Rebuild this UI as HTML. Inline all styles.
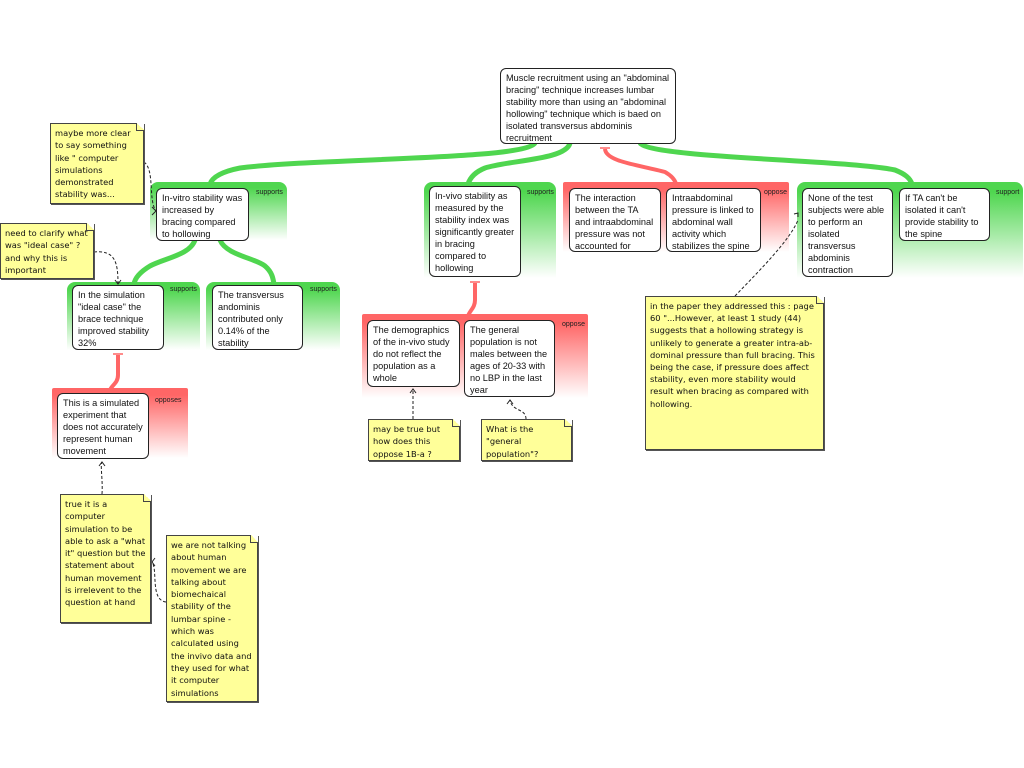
<!DOCTYPE html>
<html><head><meta charset="utf-8"><style>
body{margin:0;width:1024px;height:768px;background:#fff;position:relative;overflow:hidden;font-family:"Liberation Sans",sans-serif}
.g,.r{position:absolute}
.g{background:linear-gradient(#4fd64f,#4fd64f 10%,#fff);border-radius:8px 8px 0 0}
.r{background:linear-gradient(#f66,#f66 10%,#fff);border-radius:2px 2px 0 0}
.lab{position:absolute;font-size:7px;color:#222}
.n{position:absolute;background:#fff;border:1px solid #222;border-radius:6px;font-size:9.2px;line-height:12px;padding:3px 5px;box-sizing:border-box;color:#111}
.note{position:absolute;background:#ffff99;border:1px solid #444;box-shadow:1px 1px 0 #555;font-family:"DejaVu Sans",sans-serif;font-size:8.3px;line-height:12.3px;padding:3px 4px;box-sizing:border-box;color:#111;overflow-wrap:break-word}
.note:after{content:"";position:absolute;right:-1px;top:-1px;width:7px;height:7px;background:linear-gradient(225deg,#fff 50%,#ffff99 50%);border-left:1px solid #444;border-bottom:1px solid #444}
svg{position:absolute;left:0;top:0}
</style></head><body>
<div class="g" style="left:150px;top:182px;width:137px;height:58px"></div>
<div class="g" style="left:424px;top:182px;width:132px;height:96px"></div>
<div class="r" style="left:563px;top:182px;width:226px;height:70px"></div>
<div class="g" style="left:797px;top:182px;width:226px;height:96px"></div>
<div class="g" style="left:67px;top:282px;width:133px;height:68px"></div>
<div class="g" style="left:206px;top:282px;width:134px;height:68px"></div>
<div class="r" style="left:52px;top:388px;width:136px;height:70px"></div>
<div class="r" style="left:362px;top:314px;width:226px;height:84px"></div>
<svg width="1024" height="768">
<g fill="none" stroke="#4fd64f" stroke-width="5">
<path d="M535,143 C525,160 320,158 240,168 C220,172 212,178 210,184"/>
<path d="M570,143 C566,160 510,160 485,168 C475,172 470,178 468,184"/>
<path d="M640,143 C650,158 850,160 895,170 C905,174 910,178 912,184"/>
<path d="M195,240 C190,255 165,258 150,266 C140,272 135,278 134,284"/>
<path d="M220,240 C226,255 255,258 265,266 C272,272 273,278 274,284"/>
</g>
<g fill="none" stroke="#f66" stroke-width="4">
<path d="M605,149 C606,162 640,165 665,172 C672,176 675,180 676,184"/>
<path d="M118,355 L118,375 C118,383 112,385 110,390"/>
<path d="M475,283 L475,300 C475,308 470,310 468,316"/>
</g>
<g stroke="#f66" stroke-width="1.5"><path d="M600,148h10M113,354h10M470,282h10"/></g>
<g fill="none" stroke="#222" stroke-width="1" stroke-dasharray="3,2">
<path d="M144,162 C155,170 148,200 156,211"/>
<path d="M94,252 C115,250 118,262 118,284"/>
<path d="M102,494 C103,480 100,465 102,462"/>
<path d="M166,602 C150,600 158,570 152,562"/>
<path d="M413,419 L413,389"/>
<path d="M526,419 C526,408 512,412 510,400"/>
<path d="M735,296 C760,270 790,240 798,220"/>
</g>
<g fill="none" stroke="#222" stroke-width="1">
<path d="M152,207l4,4l-4,4M115,280l3,4l3,-4M99,466l3,-4l3,4M155,558l-3,4l3,4M410,393l3,-4l3,4M507,404l3,-4l3,4M794,214l4,-1l0,4"/>
</g>
</svg>
<div class="lab" style="left:256px;top:189px">supports</div>
<div class="lab" style="left:527px;top:189px">supports</div>
<div class="lab" style="left:764px;top:189px">oppose</div>
<div class="lab" style="left:996px;top:189px">support</div>
<div class="lab" style="left:170px;top:286px">supports</div>
<div class="lab" style="left:310px;top:286px">supports</div>
<div class="lab" style="left:155px;top:397px">opposes</div>
<div class="lab" style="left:562px;top:321px">oppose</div>
<div class="n" style="left:500px;top:68px;width:176px;height:76px">Muscle recruitment using an "abdominal bracing" technique increases lumbar stability more than using an "abdominal hollowing" technique which is baed on isolated transversus abdominis recruitment</div>
<div class="n" style="left:156px;top:188px;width:93px;height:53px">In-vitro stability was increased by bracing compared to hollowing</div>
<div class="n" style="left:429px;top:186px;width:92px;height:91px">In-vivo stability as measured by the stability index was significantly greater in bracing compared to hollowing</div>
<div class="n" style="left:569px;top:188px;width:92px;height:64px">The interaction between the TA and intraabdominal pressure was not accounted for</div>
<div class="n" style="left:666px;top:188px;width:95px;height:64px">Intraabdominal pressure is linked to abdominal wall activity which stabilizes the spine</div>
<div class="n" style="left:802px;top:188px;width:91px;height:89px">None of the test subjects were able to perform an isolated transversus abdominis contraction</div>
<div class="n" style="left:899px;top:188px;width:91px;height:53px">If TA can't be isolated it can't provide stability to the spine</div>
<div class="n" style="left:72px;top:285px;width:92px;height:65px">In the simulation "ideal case" the brace technique improved stability 32%</div>
<div class="n" style="left:212px;top:285px;width:91px;height:65px">The transversus andominis contributed only 0.14% of the stability</div>
<div class="n" style="left:57px;top:393px;width:92px;height:66px">This is a simulated experiment that does not accurately represent human movement</div>
<div class="n" style="left:367px;top:320px;width:93px;height:67px">The demographics of the in-vivo study do not reflect the population as a whole</div>
<div class="n" style="left:464px;top:320px;width:91px;height:77px">The general population is not males between the ages of 20-33 with no LBP in the last year</div>
<div class="note" style="left:50px;top:123px;width:94px;height:81px">maybe more clear to say something like " computer simulations demonstrated stability was...</div>
<div class="note" style="left:0px;top:223px;width:94px;height:56px">need to clarify what was "ideal case" ? and why this is important</div>
<div class="note" style="left:60px;top:494px;width:91px;height:129px">true it is a computer simulation to be able to ask a "what it" question but the statement about human movement  is irrelevent to the question at hand</div>
<div class="note" style="left:166px;top:535px;width:92px;height:167px">we are not talking about human movement  we are talking about biomechaical stability of the lumbar spine - which was calculated using the invivo data and they used for what it computer simulations</div>
<div class="note" style="left:368px;top:419px;width:92px;height:42px">may be true but how does this oppose 1B-a ?</div>
<div class="note" style="left:481px;top:419px;width:91px;height:42px">What is the "general population"?</div>
<div class="note" style="left:645px;top:296px;width:179px;height:154px;line-height:12.2px">in the paper they  addressed this : page 60 "...However, at least 1 study (44) suggests that a hollowing strategy is unlikely to generate a greater intra-ab-dominal pressure than full bracing. This being the case, if pressure does affect stability, even more stability would result when bracing as compared with hollowing.</div>
</body></html>
